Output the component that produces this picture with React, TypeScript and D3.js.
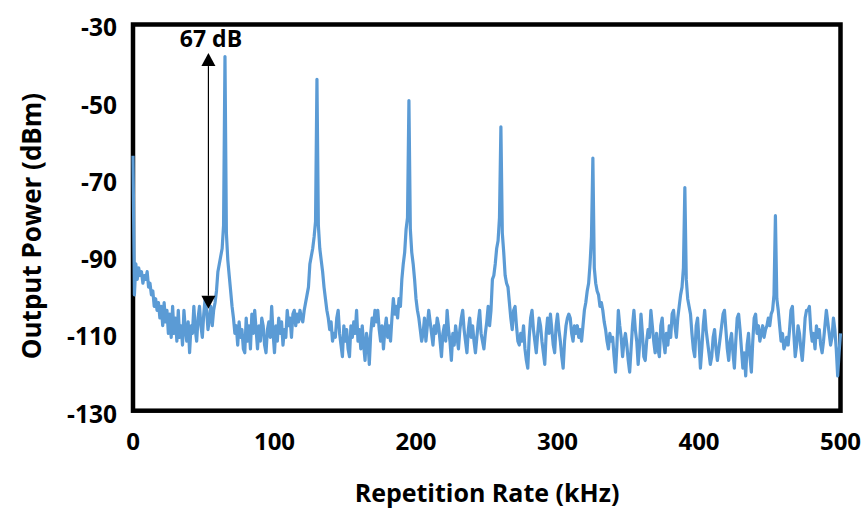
import React from "react";
import * as d3 from "d3";

// Frequency axis in kHz, 1 kHz step (0..500)
const powerDbm: number[] = [
  -64, -100, -92, -96, -93, -95, -94, -97, -95, -96,
  -94, -98, -97, -100, -99, -103, -101, -104, -102, -106,
  -103, -108, -102, -107, -104, -110, -105, -111, -103, -110,
  -106, -112, -104, -111, -108, -113, -104, -109, -112, -107,
  -115, -108, -110, -103, -109, -112, -106, -103, -108, -111,
  -105, -101, -104, -109, -106, -103, -108, -104, -102, -99,
  -94, -92, -90, -88, -82, -38.3, -84, -91, -95, -99,
  -103, -106, -110, -108, -113, -107, -111, -109, -114, -115,
  -106, -112, -108, -114, -105, -110, -104, -109, -114, -108,
  -112, -106, -108, -113, -115, -109, -107, -111, -103, -110,
  -115, -108, -112, -106, -110, -107, -113, -109, -111, -104,
  -108, -106, -111, -105, -104, -108, -105, -107, -104, -106,
  -107, -104, -102, -100, -98, -92, -90, -88, -85, -81,
  -44.2, -82, -88, -91, -94, -98, -101, -104, -106, -109,
  -107, -112, -110, -111, -106, -104, -110, -113, -116, -108,
  -112, -109, -114, -116, -108, -111, -107, -110, -104, -112,
  -109, -114, -108, -113, -117, -110, -112, -118, -110, -106,
  -108, -104, -107, -104, -109, -112, -108, -114, -109, -106,
  -111, -108, -112, -106, -101, -105, -103, -106, -101, -103,
  -96, -92, -89, -83, -80, -49.7, -83, -89, -92, -96,
  -101, -104, -106, -109, -112, -110, -106, -112, -108, -104,
  -107, -110, -113, -108, -110, -106, -108, -112, -116, -110,
  -108, -112, -104, -109, -112, -117, -110, -113, -108, -111,
  -114, -109, -106, -104, -109, -112, -115, -109, -106, -111,
  -108, -112, -115, -111, -107, -104, -110, -112, -114, -110,
  -107, -103, -108, -104, -96, -95, -92, -88, -86, -80,
  -56.5, -84, -89, -95, -97, -98, -102, -106, -109, -104,
  -103, -108, -112, -113, -110, -112, -108, -114, -117, -119,
  -111, -106, -104, -109, -112, -115, -110, -106, -108, -112,
  -115, -118, -110, -106, -110, -105, -109, -113, -115, -108,
  -105, -109, -112, -116, -119, -112, -108, -106, -105, -106,
  -110, -112, -108, -110, -108, -111, -109, -112, -108, -104,
  -102, -99, -97, -92, -85, -64.6, -93, -97, -99, -100,
  -103, -102, -104, -107, -109, -112, -114, -110, -112, -111,
  -116, -120, -113, -104, -108, -111, -116, -112, -110, -113,
  -117, -120, -114, -108, -104, -109, -112, -118, -113, -105,
  -110, -116, -117, -112, -109, -111, -104, -108, -112, -115,
  -110, -114, -116, -108, -106, -112, -115, -110, -113, -108,
  -111, -105, -104, -108, -111, -106, -103, -100, -98, -93,
  -72.2, -96, -101, -103, -105, -110, -114, -116, -108, -106,
  -112, -119, -114, -108, -104, -109, -112, -115, -118, -116,
  -111, -109, -114, -117, -114, -111, -108, -105, -104, -109,
  -114, -117, -112, -110, -115, -119, -112, -106, -105, -109,
  -114, -119, -115, -121, -113, -110, -116, -120, -112, -106,
  -105, -110, -108, -112, -110, -108, -111, -109, -108, -106,
  -108, -105, -104, -100, -79.5, -101, -104, -108, -112, -110,
  -114, -113, -111, -113, -109, -104, -103, -110, -116, -113,
  -108, -110, -114, -117, -112, -106, -104, -104, -103, -109,
  -112, -110, -114, -108, -111, -109, -113, -115, -112, -108,
  -104, -107, -110, -113, -111, -106, -109, -114, -121, -115,
  -110,
];
const freqStepKHz = 1;
const freqKHz: number[] = powerDbm.map((_, i) => i * freqStepKHz);

const xTicks: number[] = [0, 100, 200, 300, 400, 500];
const yTicks: number[] = [-130, -110, -90, -70, -50, -30];
const xDomain: [number, number] = [0, 500];
const yDomain: [number, number] = [-130, -30];

const annotationText = "67 dB";
const annotationX = 53.3; // kHz
const annotationTop = -37.4; // dBm
const annotationBottom = -103.6; // dBm

const xTitle = "Repetition Rate (kHz)";
const yTitle = "Output Power (dBm)";

export default function App() {
  const W = 867;
  const H = 508;
  const left = 133;
  const right = 840.5;
  const top = 24.5;
  const bottom = 410.7;

  const x = d3.scaleLinear().domain(xDomain).range([left, right]);
  const y = d3.scaleLinear().domain(yDomain).range([bottom, top]);

  const line = d3
    .line<number>()
    .x((_, i) => x(freqKHz[i]))
    .y((d) => y(d));

  const font = "Open Sans, Lato, sans-serif";
  const ax = x(annotationX);
  const aTop = y(annotationTop);
  const aBot = y(annotationBottom);
  const ah = 13;
  const aw = 7;

  return (
    <svg
      width={W}
      height={H}
      style={{ position: "absolute", left: 0, top: 0, display: "block" }}
      fontFamily={font}
    >
      <rect x={0} y={0} width={W} height={H} fill="#fff" />
      {/* frame */}
      <rect
        x={left}
        y={top}
        width={right - left}
        height={bottom - top}
        fill="none"
        stroke="#000"
        strokeWidth={4.5}
      />
      {/* y ticks */}
      {yTicks.map((t) => (
        <text
          key={"y" + t}
          x={117}
          y={y(t) + 3}
          dy="0.36em"
          textAnchor="end"
          fontSize={24.5}
          fontWeight="bold"
          fill="#000"
        >
          {t}
        </text>
      ))}
      {xTicks.map((t) => (
        <text
          key={"x" + t}
          x={x(t)}
          y={450}
          textAnchor="middle"
          fontSize={24}
          fontWeight="bold"
          fill="#000"
        >
          {t}
        </text>
      ))}
      <text
        x={487}
        y={501.5}
        textAnchor="middle"
        fontSize={25}
        fontWeight="bold"
        fill="#000"
      >
        {xTitle}
      </text>
      <text
        transform={`translate(41, 226) rotate(-90)`}
        textAnchor="middle"
        fontSize={26}
        fontWeight="bold"
        fill="#000"
      >
        {yTitle}
      </text>
      {/* data line */}
      <path
        d={line(powerDbm) || ""}
        fill="none"
        stroke="#5B9BD5"
        strokeWidth={3.2}
        strokeLinejoin="round"
      />
      {/* annotation arrow */}
      <line x1={ax} x2={ax} y1={aTop + ah} y2={aBot - ah} stroke="#000" strokeWidth={1.2} />
      <path d={`M${ax},${aTop} L${ax - aw},${aTop + ah} L${ax + aw},${aTop + ah} Z`} fill="#000" />
      <path d={`M${ax},${aBot} L${ax - aw},${aBot - ah} L${ax + aw},${aBot - ah} Z`} fill="#000" />
      <text
        x={211}
        y={47}
        textAnchor="middle"
        fontSize={23}
        fontWeight="bold"
        fill="#000"
      >
        {annotationText}
      </text>
    </svg>
  );
}
